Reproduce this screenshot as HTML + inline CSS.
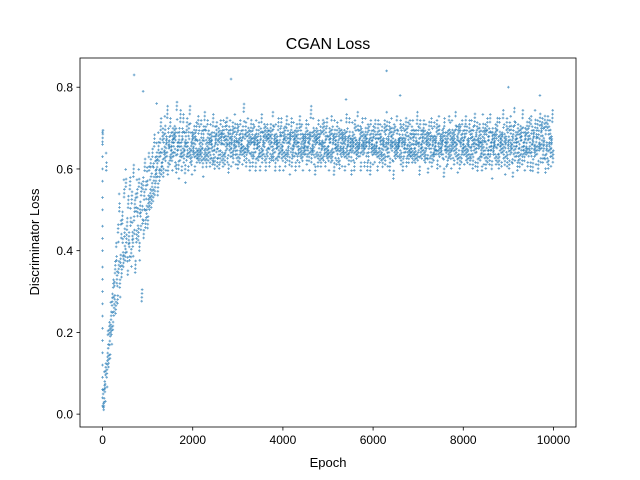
<!DOCTYPE html>
<html><head><meta charset="utf-8"><style>
html,body{margin:0;padding:0;background:#fff;}
svg{display:block;font-family:"Liberation Sans","DejaVu Sans",sans-serif;}
</style></head><body>
<svg id="chart" width="640" height="480" viewBox="0 0 640 480">
<rect width="640" height="480" fill="#fff"/>
<text x="328" y="49" font-size="16" text-anchor="middle" fill="#000">CGAN Loss</text>
<g id="points"></g>
<g id="axes"></g>
<text x="328" y="467" font-size="13" text-anchor="middle">Epoch</text>
<text transform="translate(39,242) rotate(-90)" font-size="13" text-anchor="middle">Discriminator Loss</text>
</svg>
<script>
const xTicks=[0,2000,4000,6000,8000,10000];
const xTickLabels=["0","2000","4000","6000","8000","10000"];
const yTicks=[0.0,0.2,0.4,0.6,0.8];
const yTickLabels=["0.0","0.2","0.4","0.6","0.8"];
const totalEpochs=10000;
const startEpochValues=[0.69,0.66,0.63,0.60,0.57,0.53,0.50,0.46,0.43,0.40,0.36,0.33,0.30,0.27,0.24,0.21,0.18,0.15,0.12,0.09,0.06,0.04,0.02];
const lossValues=[
0.69,0.04,0.02,0.08,0.05,0.11,0.62,0.09,0.14,0.18,0.12,0.22,0.16,0.20,0.25,0.19,0.28,0.23,0.31,0.26,
0.30,0.35,0.27,0.40,0.33,0.29,0.44,0.36,0.52,0.31,0.38,0.45,0.34,0.49,0.41,0.37,0.55,0.43,0.39,0.58,
0.42,0.47,0.36,0.51,0.44,0.40,0.56,0.48,0.38,0.53,0.45,0.41,0.60,0.46,0.50,0.37,0.52,0.43,0.55,0.48,
0.44,0.58,0.40,0.51,0.47,0.54,0.30,0.49,0.56,0.45,0.52,0.61,0.48,0.55,0.50,0.58,0.46,0.53,0.62,0.51,
0.55,0.60,0.52,0.57,0.63,0.54,0.59,0.66,0.56,0.61,0.58,0.64,0.60,0.55,0.67,0.62,0.59,0.65,0.70,0.61,
0.63,0.68,0.60,0.66,0.64,0.71,0.62,0.67,0.65,0.73,0.61,0.68,0.66,0.63,0.70,0.64,0.67,0.62,0.69,0.65,
0.66,0.70,0.63,0.68,0.61,0.74,0.65,0.67,0.60,0.69,0.64,0.72,0.66,0.62,0.68,0.65,0.71,0.63,0.67,0.59,
0.68,0.64,0.70,0.66,0.62,0.69,0.65,0.73,0.63,0.67,0.61,0.68,0.66,0.64,0.70,0.62,0.67,0.65,0.69,0.63,
0.65,0.71,0.64,0.68,0.62,0.66,0.70,0.63,0.67,0.60,0.69,0.65,0.72,0.64,0.68,0.61,0.66,0.70,0.63,0.67,
0.66,0.62,0.69,0.65,0.68,0.63,0.71,0.64,0.67,0.61,0.68,0.66,0.70,0.63,0.65,0.69,0.62,0.67,0.64,0.70,
0.67,0.64,0.68,0.62,0.70,0.66,0.63,0.69,0.65,0.72,0.64,0.67,0.61,0.68,0.66,0.70,0.63,0.67,0.65,0.69,
0.64,0.68,0.66,0.71,0.63,0.67,0.65,0.69,0.62,0.68,0.66,0.64,0.70,0.65,0.67,0.63,0.69,0.66,0.74,0.64,
0.66,0.69,0.63,0.67,0.65,0.70,0.64,0.68,0.62,0.66,0.71,0.65,0.67,0.63,0.69,0.64,0.68,0.66,0.61,0.70,
0.65,0.67,0.64,0.69,0.66,0.62,0.68,0.65,0.71,0.63,0.67,0.66,0.70,0.64,0.68,0.62,0.66,0.69,0.65,0.67,
0.68,0.63,0.66,0.70,0.64,0.67,0.65,0.72,0.63,0.68,0.66,0.61,0.69,0.65,0.67,0.64,0.70,0.66,0.62,0.68,
0.66,0.70,0.64,0.67,0.62,0.69,0.65,0.68,0.63,0.66,0.71,0.64,0.67,0.65,0.69,0.61,0.68,0.66,0.70,0.63,
0.67,0.64,0.69,0.65,0.68,0.62,0.66,0.70,0.64,0.67,0.66,0.63,0.71,0.65,0.68,0.64,0.69,0.62,0.67,0.66,
0.64,0.68,0.66,0.70,0.63,0.67,0.65,0.69,0.62,0.68,0.66,0.73,0.64,0.67,0.65,0.70,0.63,0.68,0.61,0.66,
0.69,0.65,0.67,0.63,0.70,0.66,0.64,0.68,0.62,0.67,0.65,0.71,0.64,0.69,0.66,0.63,0.68,0.65,0.70,0.64,
0.66,0.62,0.69,0.65,0.67,0.64,0.71,0.63,0.68,0.66,0.60,0.70,0.65,0.67,0.63,0.69,0.66,0.64,0.68,0.62,
0.67,0.65,0.70,0.63,0.68,0.66,0.64,0.69,0.62,0.67,0.65,0.71,0.64,0.68,0.66,0.63,0.70,0.65,0.67,0.61,
0.65,0.69,0.64,0.67,0.62,0.70,0.66,0.68,0.63,0.66,0.72,0.64,0.67,0.65,0.69,0.62,0.68,0.66,0.70,0.64,
0.68,0.63,0.66,0.70,0.65,0.67,0.62,0.69,0.64,0.68,0.66,0.61,0.70,0.65,0.67,0.63,0.69,0.66,0.64,0.71,
0.66,0.64,0.68,0.62,0.70,0.65,0.67,0.63,0.69,0.66,0.64,0.68,0.61,0.67,0.65,0.70,0.63,0.68,0.66,0.72,
0.63,0.67,0.65,0.69,0.62,0.68,0.66,0.70,0.64,0.67,0.60,0.69,0.65,0.68,0.63,0.66,0.71,0.64,0.67,0.65,
0.67,0.65,0.70,0.63,0.68,0.66,0.62,0.69,0.64,0.67,0.66,0.71,0.63,0.68,0.65,0.69,0.62,0.66,0.70,0.64,
0.65,0.68,0.63,0.70,0.66,0.64,0.67,0.62,0.69,0.65,0.72,0.64,0.68,0.66,0.61,0.70,0.65,0.67,0.63,0.69,
0.66,0.70,0.64,0.67,0.63,0.69,0.65,0.68,0.61,0.66,0.71,0.64,0.67,0.65,0.70,0.62,0.68,0.66,0.64,0.69,
0.64,0.67,0.66,0.70,0.62,0.68,0.65,0.71,0.63,0.67,0.66,0.64,0.69,0.65,0.68,0.60,0.70,0.66,0.67,0.63,
0.68,0.63,0.67,0.65,0.71,0.64,0.69,0.62,0.66,0.70,0.65,0.68,0.63,0.67,0.66,0.72,0.64,0.68,0.61,0.69,
0.65,0.69,0.62,0.68,0.66,0.64,0.70,0.65,0.67,0.63,0.69,0.66,0.71,0.64,0.68,0.62,0.67,0.65,0.70,0.63,
0.67,0.64,0.70,0.66,0.62,0.68,0.65,0.73,0.63,0.67,0.66,0.69,0.61,0.68,0.65,0.70,0.64,0.67,0.66,0.62,
0.66,0.71,0.63,0.68,0.65,0.69,0.62,0.67,0.70,0.64,0.66,0.68,0.63,0.71,0.65,0.67,0.60,0.69,0.66,0.64,
0.68,0.65,0.69,0.63,0.67,0.71,0.64,0.66,0.62,0.70,0.65,0.68,0.63,0.67,0.66,0.72,0.64,0.69,0.61,0.67,
0.65,0.70,0.63,0.68,0.66,0.62,0.69,0.65,0.71,0.64,0.67,0.60,0.68,0.66,0.73,0.63,0.69,0.65,0.67,0.62,
0.69,0.64,0.67,0.61,0.70,0.66,0.68,0.63,0.72,0.65,0.67,0.62,0.69,0.66,0.64,0.71,0.63,0.68,0.65,0.70,
0.66,0.62,0.71,0.65,0.68,0.60,0.69,0.67,0.64,0.72,0.63,0.68,0.66,0.70,0.61,0.67,0.65,0.73,0.64,0.69,
0.67,0.70,0.63,0.68,0.65,0.72,0.61,0.69,0.66,0.64,0.71,0.62,0.68,0.66,0.70,0.63,0.67,0.65,0.72,0.64
];
const outlierEpochs=[700,900,2850,6300,6600,9000,9700,1200,5400];
const outlierValues=[0.83,0.79,0.82,0.84,0.78,0.80,0.78,0.76,0.77];

const L=80,R=576,T=58,B=427;
const xMin=-500,xMax=10500,yMin=-0.0315,yMax=0.8715;
const xs=v=>L+(v-xMin)/(xMax-xMin)*(R-L);
const ys=v=>B-(v-yMin)/(yMax-yMin)*(B-T);
const NS="http://www.w3.org/2000/svg";
const pts=document.getElementById('points');
const axes=document.getElementById('axes');
function plus(x,y){
  const p=document.createElementNS(NS,'path');
  p.setAttribute('d',`M${x-1.3},${y}h2.6M${x},${y-1.3}v2.6`);
  p.setAttribute('stroke','#1f77b4');
  p.setAttribute('stroke-width','0.9');
  p.setAttribute('opacity','0.7');
  
  
  pts.appendChild(p);
}
const epochStep=totalEpochs/lossValues.length;
const copies=4;
startEpochValues.forEach(v=>plus(xs(0),ys(v)));
lossValues.forEach((v,i)=>{
  for(let c=0;c<copies;c++){
    const e=i*epochStep+c*epochStep/copies;
    const j=(((i*7+c*13)%11)-5)*0.0047;
    plus(xs(e),ys(v+j));
  }
});
outlierValues.forEach((v,i)=>plus(xs(outlierEpochs[i]),ys(v)));

const frame=document.createElementNS(NS,'rect');
frame.setAttribute('x',L);frame.setAttribute('y',T);
frame.setAttribute('width',R-L);frame.setAttribute('height',B-T);
frame.setAttribute('fill','none');frame.setAttribute('stroke','#000');frame.setAttribute('stroke-width','0.8');


axes.appendChild(frame);
xTicks.forEach((t,i)=>{
  const x=xs(t);
  const l=document.createElementNS(NS,'line');
  l.setAttribute('x1',x);l.setAttribute('x2',x);l.setAttribute('y1',B);l.setAttribute('y2',B+3.5);
  l.setAttribute('stroke','#000');l.setAttribute('stroke-width','0.8');
  
  
  axes.appendChild(l);
  const tx=document.createElementNS(NS,'text');
  tx.setAttribute('x',x);tx.setAttribute('y',B+17);tx.setAttribute('font-size','12');tx.setAttribute('text-anchor','middle');
  tx.textContent=xTickLabels[i];
  
  
  axes.appendChild(tx);
});
yTicks.forEach((t,i)=>{
  const y=ys(t);
  const l=document.createElementNS(NS,'line');
  l.setAttribute('x1',L-3.5);l.setAttribute('x2',L);l.setAttribute('y1',y);l.setAttribute('y2',y);
  l.setAttribute('stroke','#000');l.setAttribute('stroke-width','0.8');
  
  
  axes.appendChild(l);
  const tx=document.createElementNS(NS,'text');
  tx.setAttribute('x',L-7);tx.setAttribute('y',y+4.5);tx.setAttribute('font-size','12');tx.setAttribute('text-anchor','end');
  tx.textContent=yTickLabels[i];
  
  
  axes.appendChild(tx);
});
</script>
</body></html>
